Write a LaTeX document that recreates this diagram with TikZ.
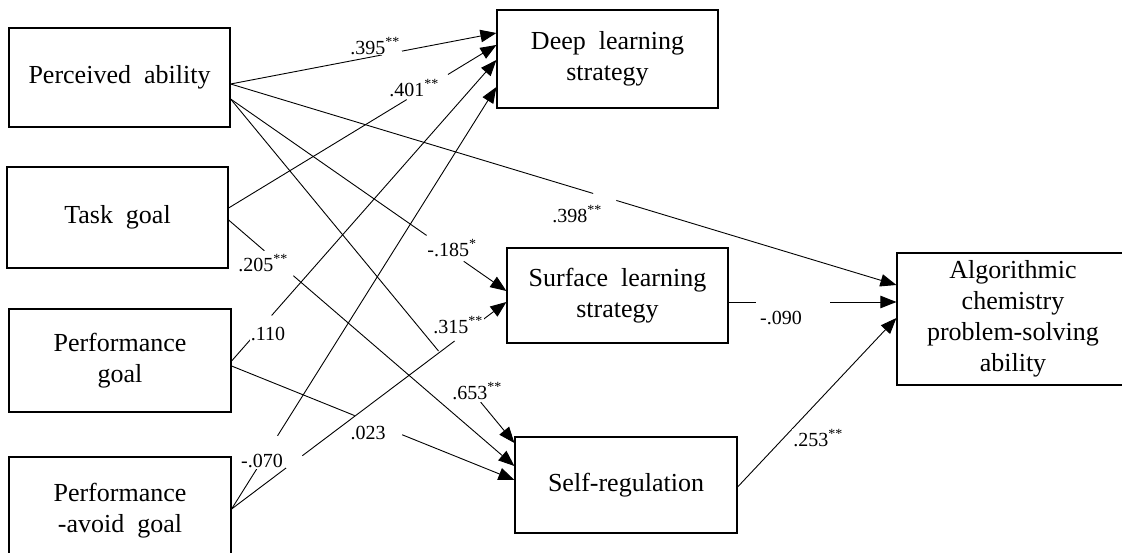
\documentclass[tikz,border=0pt]{standalone}
\usepackage{fontspec}
\setmainfont{Liberation Serif}
\usetikzlibrary{arrows.meta}
\newcommand\bxfont{\fontsize{26}{31}\selectfont}
\newcommand\lbfont{\fontsize{20}{22}\selectfont}
\begin{document}
\begin{tikzpicture}[x=1pt,y=-1pt,
  box/.style={draw, line width=1.2pt, inner sep=0pt, align=center, font=\bxfont},
  conn/.style={line width=0.9pt, -{Triangle[length=16pt,width=12.5pt]}},
  lbl/.style={font=\lbfont, fill=white, inner sep=1pt},
  linegap/.style={sloped, fill=white, inner sep=0pt, minimum height=3pt, minimum width=#1}]
\useasboundingbox (0,0) rectangle (1122,553);
% boxes
\node[box, minimum width=221pt, minimum height=99pt] (pa) at (119.5,77.5) {Perceived~~ability};
\node[box, minimum width=221pt, minimum height=101pt] (tg) at (117.5,217.5) {Task~~goal};
\node[box, minimum width=222pt, minimum height=103pt] (pg) at (120,360.5) {Performance\\goal};
\node[box, minimum width=222pt, minimum height=108pt] (pag) at (120,511) {Performance\\-avoid~~goal};
\node[box, minimum width=221pt, minimum height=98pt] (deep) at (607.5,59) {Deep~~learning\\strategy};
\node[box, minimum width=221pt, minimum height=95pt] (surf) at (617.5,295.5) {Surface~~learning\\strategy};
\node[box, minimum width=222pt, minimum height=96pt] (self) at (626,485) {Self-regulation};
\node[box, minimum width=232pt, minimum height=132pt] (algo) at (1013,319) {Algorithmic\\chemistry\\problem-solving\\ability};
% connectors
\draw[conn] ([yshift=-6.5pt]pa.east) -- node[linegap=20pt,pos=0.607]{} ([yshift=26pt]deep.west);
\draw[conn] ([yshift=9.5pt]tg.east) -- node[linegap=48pt,pos=0.742]{} ([yshift=14pt]deep.west);
\draw[conn] ([yshift=-0.5pt]pg.east) -- node[linegap=32pt,pos=0.111]{} ([yshift=-1pt]deep.west);
\draw[conn] ([yshift=2pt]pag.east) -- node[linegap=38pt,pos=0.135]{} ([yshift=-28pt]deep.west);
\draw[conn] ([yshift=-6.5pt]pa.east) -- node[linegap=24pt,pos=0.562]{} ([yshift=34pt]algo.west);
\draw[conn] ([yshift=-21.5pt]pa.east) -- node[linegap=45pt,pos=0.778]{} ([yshift=4.5pt]surf.west);
\draw[conn] ([yshift=-21.5pt]pa.east) -- node[linegap=66pt,pos=0.807]{} ([yshift=42pt]self.west);
\draw[conn] ([yshift=-2.5pt]tg.east) -- node[linegap=38pt,pos=0.176]{} ([yshift=19pt]self.west);
\draw[conn] ([yshift=-5.5pt]pg.east) -- node[linegap=51pt,pos=0.519]{} ([yshift=5pt]self.west);
\draw[conn] ([yshift=2pt]pag.east) -- node[linegap=20pt,pos=0.228]{} node[linegap=31pt,pos=0.857]{} ([yshift=-6.5pt]surf.west);
\draw[conn] ([yshift=-6.5pt]surf.east) -- node[linegap=74pt,pos=0.385]{} ([yshift=17pt]algo.west);
\draw[conn] ([yshift=-2pt]self.east) -- ([yshift=1pt]algo.west);
% labels
\node[lbl] (l395) at (375,46) {.395\textsuperscript{**}};
\node[lbl] (l401) at (414,88) {.401\textsuperscript{**}};
\node[lbl] (l398) at (577,214) {.398\textsuperscript{**}};
\node[lbl] (l185) at (452,248) {-.185\textsuperscript{*}};
\node[lbl] (l205) at (263,263) {.205\textsuperscript{**}};
\node[lbl] (l110) at (268,334) {.110};
\node[lbl] (l653) at (477,391) {.653\textsuperscript{**}};
\node[lbl] (l023) at (368,433) {.023};
\node[lbl] (l070) at (262,461) {-.070};
\node[lbl] (l315) at (458,325) {.315\textsuperscript{**}};
\node[lbl] (l090) at (781,318) {-.090};
\node[lbl] (l253) at (818,438) {.253\textsuperscript{**}};
\end{tikzpicture}
\end{document}
